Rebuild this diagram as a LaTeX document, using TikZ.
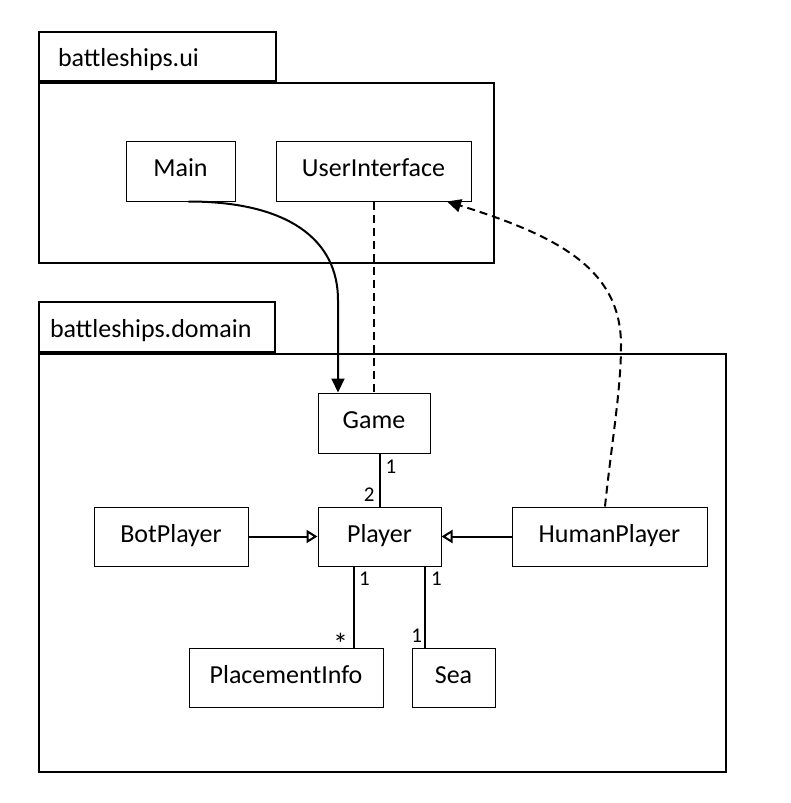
\documentclass[tikz,border=0pt]{standalone}
\usepackage{fontspec}
\setmainfont{Carlito}
\usetikzlibrary{positioning, arrows.meta}

\begin{document}
\begin{tikzpicture}[x=1pt, y=-1pt,
    cls/.style={draw, line width=1pt, minimum height=60pt, inner sep=0pt, text height=17pt, text depth=6pt, font=\fontsize{26}{30}\selectfont},
    pkg/.style={draw, line width=2pt, inner sep=0pt, anchor=north west},
    tab/.style={draw, line width=2pt, inner ysep=0pt, anchor=south west, align=left, text height=20pt, text depth=0pt, font=\fontsize{26}{30}\selectfont},
    mult/.style={inner sep=0pt, font=\fontsize{21}{24}\selectfont},
    assoc/.style={line width=2pt},
    depend/.style={line width=2pt, dash pattern=on 8pt off 5pt},
    nav/.style={-{Triangle[length=14pt, width=13pt]}},
    gen/.style={-{Triangle[open, length=11pt, width=13pt, line width=2pt]}}]

    \useasboundingbox (0,0) rectangle (791,803);

    % --- package battleships.ui ---
    \node[pkg, minimum width=455pt, minimum height=180pt] (uiBody) at (38,82) {};
    \node[tab, minimum height=49pt, inner xsep=19pt, text width=199pt] (uiTab) at (uiBody.north west) {battleships.ui};

    % --- package battleships.domain ---
    \node[pkg, minimum width=687pt, minimum height=418pt] (domBody) at (38,353) {};
    \node[tab, minimum height=50pt, inner xsep=11pt, text width=214pt] (domTab) at (domBody.north west) {battleships.domain};

    % --- classes ---
    \node[cls, minimum width=109pt] (Main) at (180.5,171) {Main};
    \node[cls, minimum width=195pt] (UserInterface) at (373.5,171) {UserInterface};
    \node[cls, minimum width=112pt] (Game) at (374,423) {Game};
    \node[cls, minimum width=123pt, minimum height=59pt] (Player) at (379.5,536.5) {Player};
    \node[cls, minimum width=154pt, minimum height=59pt] (BotPlayer) at (171,536.5) {BotPlayer};
    \node[cls, minimum width=195pt, minimum height=59pt] (HumanPlayer) at (609.5,536.5) {HumanPlayer};
    \node[cls, minimum width=194pt, minimum height=59pt] (PlacementInfo) at (286,677.5) {PlacementInfo};
    \node[cls, minimum width=83pt, minimum height=59pt] (Sea) at (453.5,677.5) {Sea};

    % hilfspunkte fuer die kurven
    \coordinate (mainBend) at (338,300);
    \coordinate (humanBend) at (621,345);

    % --- Main -> Game ---
    \draw[assoc, nav] ([xshift=8pt]Main.south) .. controls +(100,0) and +(0,-60) .. (mainBend)
        -- (mainBend |- Game.north);

    % --- UserInterface - Game (gestrichelt) ---
    \draw[depend] (UserInterface.south) -- (UserInterface.south |- Game.north);

    % --- HumanPlayer -> UserInterface (gestrichelt) ---
    \draw[depend, nav] ([xshift=-4.5pt]HumanPlayer.north) .. controls +(7,-67) and +(0,45) .. (humanBend)
        .. controls +(0,-75) and +(113,35) .. ([xshift=73.5pt]UserInterface.south);

    % --- Game - Player ---
    \draw[assoc] (Game.south -| Player.north) -- (Player.north)
        node[mult, pos=0.25, right=5pt] (mGame) {1}
        node[mult, pos=0.78, left=4pt] (mPlayerA) {2};

    % --- Vererbung ---
    \draw[assoc, gen] (BotPlayer) -- (Player);
    \draw[assoc, gen] (HumanPlayer) -- (Player);

    % --- Player - PlacementInfo / Sea ---
    \draw[assoc] ([xshift=-25.5pt]Player.south) -- ([xshift=-25.5pt]Player.south |- PlacementInfo.north)
        node[mult, pos=0.86, left=5pt, yshift=-8pt, font=\fontsize{30}{30}\selectfont] (mPlacement) {*}
        node[mult, pos=0.15, right=4pt] (mPlayerB) {1};
    \draw[assoc] ([xshift=45.5pt]Player.south) -- ([xshift=45.5pt]Player.south |- Sea.north)
        node[mult, pos=0.15, right=5pt] (mPlayerC) {1}
        node[mult, pos=0.85, left=2pt] (mSea) {1};

\end{tikzpicture}
\end{document}
